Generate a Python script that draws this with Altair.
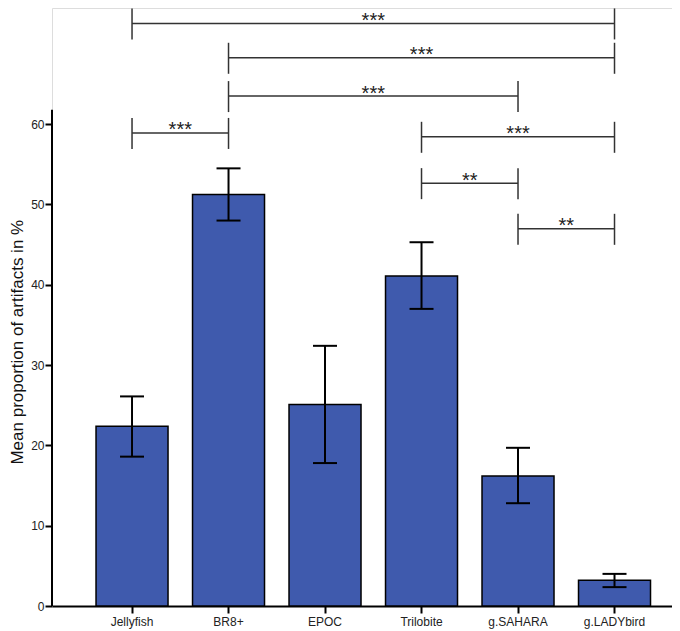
import altair as alt
import pandas as pd

categories = ["Jellyfish", "BR8+", "EPOC", "Trilobite", "g.SAHARA", "g.LADYbird"]
means = [22.4, 51.25, 25.1, 41.1, 16.2, 3.2]
lower = [18.6, 48.0, 17.8, 37.0, 12.8, 2.35]
upper = [26.1, 54.5, 32.4, 45.3, 19.7, 4.0]

bracket_left = ["Jellyfish", "BR8+", "BR8+", "Jellyfish", "Trilobite", "Trilobite", "g.SAHARA"]
bracket_right = ["g.LADYbird", "g.LADYbird", "g.SAHARA", "BR8+", "g.LADYbird", "g.SAHARA", "g.LADYbird"]
bracket_level = [72.55, 68.27, 63.5, 58.91, 58.43, 52.66, 46.97]
bracket_label = ["***", "***", "***", "***", "***", "**", "**"]

y_ticks = [0, 10, 20, 30, 40, 50, 60]
axis_top = 61.8
y_max = 74.47

bars_df = pd.DataFrame({"cat": categories, "mean": means, "lo": lower, "hi": upper})
br_df = pd.DataFrame({"left": bracket_left, "right": bracket_right,
                      "level": bracket_level, "label": bracket_label})
axis_df = pd.DataFrame({"y0": [0], "y1": [axis_top]})

FONT = "Liberation Sans"

x_enc = alt.X("cat:N", sort=categories,
              scale=alt.Scale(domain=categories, paddingInner=0.2539,
                              paddingOuter=0.3395, align=0.672),
              axis=alt.Axis(title=None, labelAngle=0, labelFontSize=12, labelFont=FONT,
                            labelColor="#222", labelPadding=3, tickSize=7, tickWidth=2,
                            tickColor="black", domainColor="black", domainWidth=2))
y_scale = alt.Scale(domain=[0, y_max], nice=False, zero=True)
y_axis = alt.Axis(values=y_ticks, domain=False, grid=False, tickSize=7, tickWidth=2,
                  tickColor="black", labelFontSize=12, labelFont=FONT, labelColor="#222",
                  labelPadding=1, title="Mean proportion of artifacts in %",
                  titleFontSize=17, titleFont=FONT, titleFontWeight="normal",
                  titleColor="#111", titleX=-30, titleY=333.7, titleAlign="center",
                  titleBaseline="alphabetic", titleAngle=270)

base = alt.Chart(bars_df)

bars = base.mark_bar(color="#3F5AAD", stroke="black", strokeWidth=1.5).encode(
    x=x_enc,
    y=alt.Y("mean:Q", scale=y_scale, axis=y_axis),
)

err = base.mark_rule(color="black", strokeWidth=2).encode(
    x=alt.X("cat:N", sort=categories),
    y="lo:Q",
    y2="hi:Q",
)

caps = base.transform_fold(["lo", "hi"], as_=["k", "v"]).mark_tick(
    color="black", size=24, thickness=2, opacity=1
).encode(
    x=alt.X("cat:N", sort=categories),
    y="v:Q",
)

yaxis_line = alt.Chart(axis_df).mark_rule(color="black", strokeWidth=2).encode(
    x=alt.value(0), y="y0:Q", y2="y1:Q"
)

br = alt.Chart(br_df)
br_h = br.mark_rule(color="#333", strokeWidth=1.5).encode(
    x=alt.X("left:N", sort=categories),
    x2="right:N",
    y="level:Q",
)
br_v = br.transform_fold(["left", "right"], as_=["side", "end"]).mark_rule(
    color="#333", strokeWidth=1.5, yOffset=-15, y2Offset=16
).encode(
    x=alt.X("end:N", sort=categories),
    y="level:Q",
    y2="level:Q",
)
br_t = br.mark_text(
    font=FONT, fontSize=20, color="#222", baseline="alphabetic", align="center", dy=3.5,
    x=alt.expr("(scale('x', datum.left) + scale('x', datum.right)) / 2 + bandwidth('x') / 2"),
).encode(
    y="level:Q",
    text="label:N",
)

chart = alt.layer(bars, err, caps, yaxis_line, br_h, br_v, br_t).properties(
    width=620, height=598,
    autosize=alt.AutoSizeParams(type="none"),
    padding={"left": 44, "top": 0, "right": 0, "bottom": 23},
).configure_view(stroke=None).configure(font=FONT)

chart.save("out.html", embed_options={"renderer": "svg", "actions": False})
